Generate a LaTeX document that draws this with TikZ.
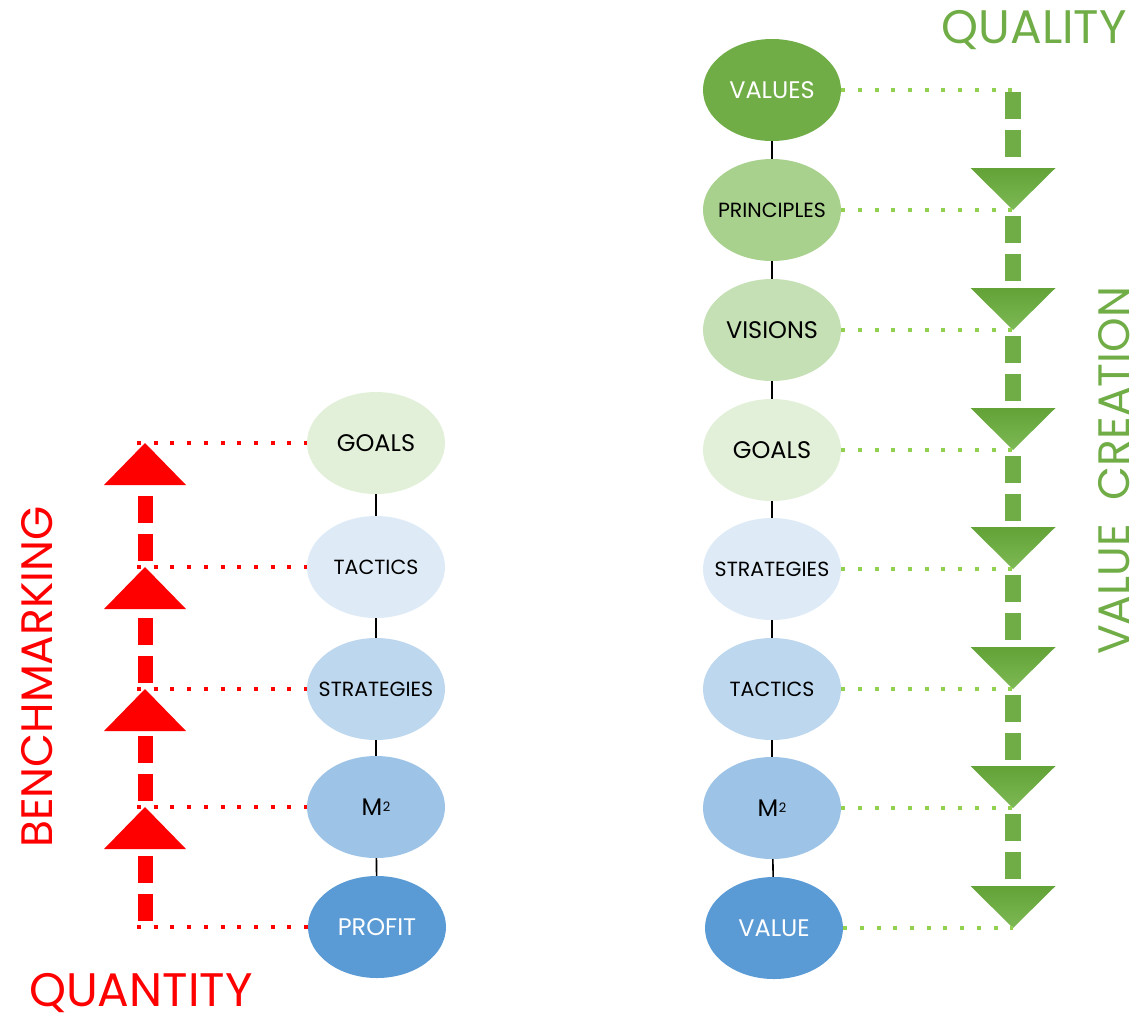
\documentclass[tikz,border=0pt]{standalone}
\usepackage{fontspec}
\setmainfont{Poppins}
\usetikzlibrary{shapes.geometric,calc}
\definecolor{cV}{HTML}{70AD47}
\definecolor{cP}{HTML}{A9D18E}
\definecolor{cVi}{HTML}{C5E0B4}
\definecolor{cG}{HTML}{E2F0D9}
\definecolor{cS}{HTML}{DEEBF7}
\definecolor{cT}{HTML}{BDD7EE}
\definecolor{cM}{HTML}{9DC3E6}
\definecolor{cB}{HTML}{5B9BD5}
\definecolor{gDot}{HTML}{92D050}
\definecolor{gShaft}{HTML}{70AD47}
\definecolor{gTop}{HTML}{62A236}
\definecolor{gBot}{HTML}{7DB955}
\definecolor{qRed}{HTML}{FF0000}
\newcommand\fsA{\fontsize{24}{26}\selectfont}
\newcommand\fsB{\fontsize{20.5}{22}\selectfont}
\newcommand\fsC{\fontsize{47}{50}\selectfont}
\newcommand\fsD{\fontsize{44}{47}\selectfont}
\newcommand\zw[1]{\makebox[0pt]{#1}}
\newcommand\msq{M\kern0.5pt{\fontsize{13}{13}\selectfont\raisebox{3.5pt}{2}}}
\begin{document}
\begin{tikzpicture}[x=1pt,y=-1pt,
  ell/.style={ellipse,minimum width=138pt,minimum height=102pt,inner sep=0pt,draw=none},
  conn/.style={line width=1.6pt,black},
  reddot/.style={qRed,line width=4pt,dash pattern=on 4pt off 12.7pt},
  greendot/.style={gDot,line width=4pt,dash pattern=on 4pt off 12.7pt},
  redshaft/.style={qRed,line width=15pt,dash pattern=on 27pt off 11pt,dash phase=32pt},
  greenshaft/.style={gShaft,line width=16pt,dash pattern=on 27pt off 11pt,dash phase=32pt},
  biglabel/.style={font=\fsC,inner sep=0pt},
  vlabel/.style={font=\fsD,inner sep=0pt,rotate=90,anchor=base}]
\useasboundingbox (0,0) rectangle (1137,1018);

% ---------- left column ----------
\node[ell,fill=cG,font=\fsA] (lg) at (376,443) {\zw{GOALS}};
\node[ell,fill=cS,font=\fsB] (lt) at (376,567) {\zw{TACTICS}};
\node[ell,fill=cT,font=\fsB] (ls) at (376,689) {\zw{STRATEGIES}};
\node[ell,fill=cM,font=\fsA] (lm) at (376,807) {\zw{\msq}};
\node[ell,fill=cB,font=\fsA,text=white] (lp) at (377,927) {\zw{PROFIT}};
\draw[conn] (lg) -- (lt);
\draw[conn] (lt) -- (ls);
\draw[conn] (ls) -- (lm);
\draw[conn] (lm) -- (lp);

\coordinate (rx) at (145,0);
\coordinate (ra0) at (lp.center -| rx);
\coordinate (ra1) at (lm.center -| rx);
\coordinate (ra2) at (ls.center -| rx);
\coordinate (ra3) at (lt.center -| rx);
\coordinate (ra4) at (lg.center -| rx);
\foreach \n/\a in {lp/ra0,lm/ra1,ls/ra2,lt/ra3,lg/ra4}
  \draw[reddot] ([xshift=-8pt]\a) -- (\n.west);
\foreach \a/\b in {ra0/ra1,ra1/ra2,ra2/ra3,ra3/ra4}
  \draw[redshaft] (\a) -- ($(\b)+(0,42)$);
\foreach \b in {ra1,ra2,ra3,ra4}
  \fill[qRed] (\b) -- ++(-41,42) -- ++(82,0) -- cycle;

% ---------- right column ----------
\node[ell,fill=cV,font=\fsA,text=white] (rv) at (772,90) {\zw{VALUES}};
\node[ell,fill=cP,font=\fsB] (rp) at (772,210) {\zw{PRINCIPLES}};
\node[ell,fill=cVi,font=\fsA] (rvi) at (772,330) {\zw{VISIONS}};
\node[ell,fill=cG,font=\fsA] (rg) at (772,450) {\zw{GOALS}};
\node[ell,fill=cS,font=\fsB] (rs) at (772,569) {\zw{STRATEGIES}};
\node[ell,fill=cT,font=\fsB] (rt) at (772,689) {\zw{TACTICS}};
\node[ell,fill=cM,font=\fsA] (rm) at (772,808) {\zw{\msq}};
\node[ell,fill=cB,font=\fsA,text=white] (rva) at (774,928) {\zw{VALUE}};
\draw[conn] (rv) -- (rp);
\draw[conn] (rp) -- (rvi);
\draw[conn] (rvi) -- (rg);
\draw[conn] (rg) -- (rs);
\draw[conn] (rs) -- (rt);
\draw[conn] (rt) -- (rm);
\draw[conn] (rm) -- (rva);

\coordinate (gx) at (1013,0);
\coordinate (ga0) at (rv.center -| gx);
\coordinate (ga1) at (rp.center -| gx);
\coordinate (ga2) at (rvi.center -| gx);
\coordinate (ga3) at (rg.center -| gx);
\coordinate (ga4) at (rs.center -| gx);
\coordinate (ga5) at (rt.center -| gx);
\coordinate (ga6) at (rm.center -| gx);
\coordinate (ga7) at (rva.center -| gx);
\draw[greenshaft,dash phase=36pt] (ga0) -- ($(ga1)+(0,-42)$);
\foreach \a/\b in {ga1/ga2,ga2/ga3,ga3/ga4,ga4/ga5,ga5/ga6,ga6/ga7}
  \draw[greenshaft] (\a) -- ($(\b)+(0,-42)$);
\foreach \b in {ga1,ga2,ga3,ga4,ga5,ga6,ga7}
  \shade[top color=gTop,bottom color=gBot] (\b) -- ++(-42.5,-42) -- ++(85,0) -- cycle;
\foreach \n/\a in {rv/ga0,rp/ga1,rvi/ga2,rg/ga3,rs/ga4,rt/ga5,rm/ga6,rva/ga7}
  \draw[greendot] (\n.east) -- (\a);

% ---------- big labels ----------
\node[biglabel,text=qRed,anchor=base west] (quantity) at (29,1006) {QUANTITY};
\node[biglabel,text=cV,anchor=base east] (quality) at (1127,43) {QUALITY};
\node[vlabel,text=qRed] (bench) at (52,677) {BENCHMARKING};
\node[vlabel,text=cV] (vcreate) at (1129,471) {VALUE\hspace{0.55em}CREATION};
\end{tikzpicture}
\end{document}
